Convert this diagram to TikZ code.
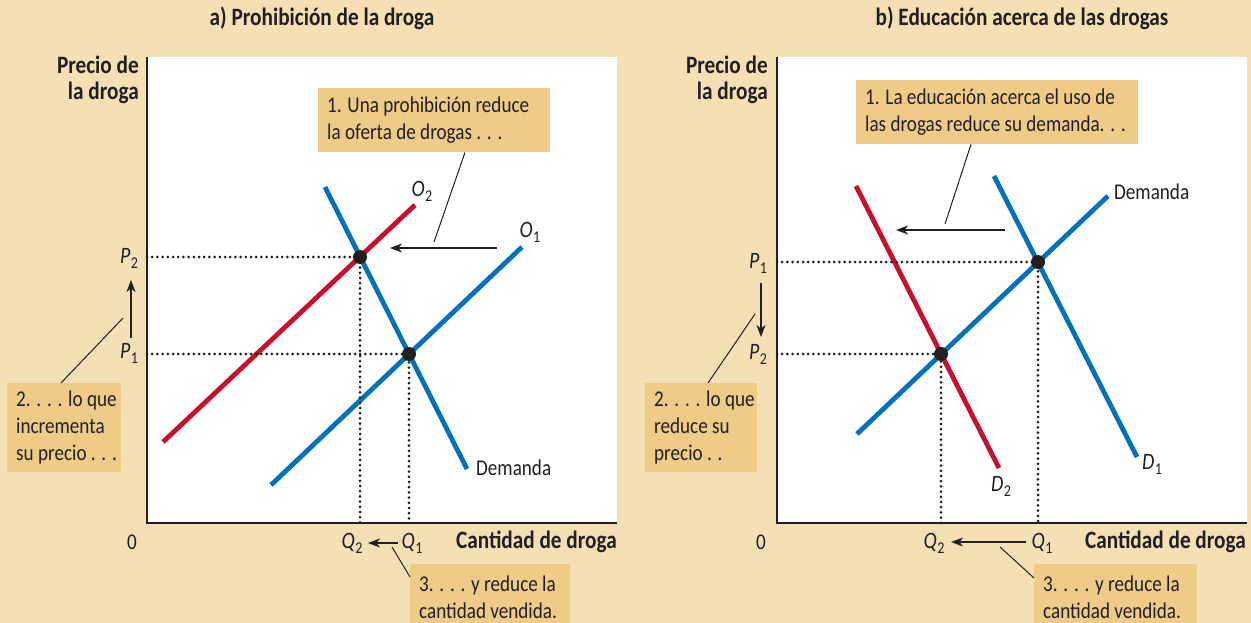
\documentclass[tikz,border=0pt]{standalone}
\usepackage{fontspec}
\setmainfont{Carlito}[FakeStretch=0.85]
\usetikzlibrary{arrows.meta}
\definecolor{bg}{HTML}{F5DFB4}
\definecolor{boxc}{HTML}{EECB86}
\definecolor{bl}{HTML}{0072BC}
\definecolor{rd}{HTML}{C8102E}
\definecolor{ink}{HTML}{231F20}
\newcommand\vsub[2]{{\fontsize{23.5}{23.5}\selectfont\textit{#1}}\kern0.5pt\raisebox{-0.22em}{\fontsize{16.5}{16.5}\selectfont #2}}
\tikzset{
  txt/.style={font=\fontsize{22.5}{27}\selectfont, inner sep=0pt, text=ink},
  btxt/.style={txt, align=left, anchor=west},
  bold/.style={font=\fontsize{25}{26}\selectfont\bfseries, inner sep=0pt, text=ink},
  box/.style={fill=boxc, draw=none, anchor=north west, inner sep=0pt},
  curve/.style={line width=4.8pt},
  dots/.style={line width=3pt, dash pattern=on 0pt off 5.2pt, line cap=round, draw=ink},
  axis/.style={line width=1.5pt, draw=ink},
  arr/.style={-{Stealth[length=12pt,width=9pt,inset=3.5pt]}, line width=1.3pt, draw=ink},
  lead/.style={line width=1pt, draw=ink},
  eq/.style={circle, fill=ink, inner sep=0pt, minimum size=14pt}
}
\begin{document}
\begin{tikzpicture}[x=1pt,y=-1pt]
\useasboundingbox (0,0) rectangle (1251,623);
\fill[bg] (0,0) rectangle (1251,623);
\fill[white] (147,57) rectangle (617,523);
\fill[white] (777,57) rectangle (1247,523);

% ================= Panel a =================
\node[bold] (ta) at (322,18) {a) Prohibición de la droga};
\coordinate (oa) at (147,523);
\draw[axis] (147,57) -- (oa) -- (617,523);
\node[bold, align=right, anchor=east] (ya) at (139,80) {Precio de\\la droga};
\node[bold, anchor=east] (xa) at (617,542) {Cantidad de droga};
\node[txt] (za) at (132,542) {0};

\coordinate (e2a) at (360,257);
\coordinate (e1a) at (409,354);
\draw[curve, rd] (163,442) coordinate (o2s) -- (415,205) coordinate (o2e);
\draw[curve, bl] (271,485) coordinate (o1s) -- (522,247) coordinate (o1e);
\draw[curve, bl] (325,187) coordinate (das) -- (467,469) coordinate (dae);
\draw[dots] (e2a -| oa) -- (e2a) -- (e2a |- oa);
\draw[dots] (e1a -| oa) -- (e1a) -- (e1a |- oa);
\node[eq] (E2a) at (e2a) {};
\node[eq] (E1a) at (e1a) {};
\node[txt] (lo2) at (422,191) {\vsub{O}{2}};
\node[txt] (lo1) at (530,232) {\vsub{O}{1}};
\node[txt, anchor=west] (lda) at (476,468) {Demanda};
\node[txt] (p2a) at (129,258) {\vsub{P}{2}};
\node[txt] (p1a) at (129,353) {\vsub{P}{1}};
\node[txt] (q2a) at (352,543) {\vsub{Q}{2}};
\node[txt] (q1a) at (412,543) {\vsub{Q}{1}};
% boxes
\node[box, minimum width=232pt, minimum height=64pt] (b1a) at (318,88) {};
\node[btxt] (t1a) at ([xshift=9pt]b1a.west) {1. Una prohibición reduce\\la oferta de drogas . . .};
\node[box, minimum width=114pt, minimum height=89pt] (b2a) at (7,383) {};
\node[btxt] (t2a) at ([xshift=9pt]b2a.west) {2. . . . lo que\\incrementa\\su precio . . .};
\node[box, minimum width=160pt, minimum height=64pt] (b3a) at (410,564) {};
\node[btxt] (t3a) at ([xshift=9pt,yshift=-1pt]b3a.west) {3. . . . y reduce la\\cantidad vendida.};
% arrows and leaders
\coordinate (sa1) at (497,248); \coordinate (sa2) at (390,248);
\draw[arr] (sa1) -- (sa2);
\coordinate (la1) at (434,242);
\draw[lead] ([xshift=147pt]b1a.south west) -- (la1);
\coordinate (pa1) at (131,338); \coordinate (pa2) at (131,280);
\draw[arr] (pa1) -- (pa2);
\coordinate (la2) at (123,318);
\draw[lead] ([xshift=54pt]b2a.north west) -- (la2);
\coordinate (qa1) at (398,543); \coordinate (qa2) at (368,543);
\draw[arr] (qa1) -- (qa2);
\coordinate (la3) at (392,547);
\draw[lead] (la3) -- ([yshift=-13pt]b3a.north west);

% ================= Panel b =================
\node[bold] (tb) at (1022,18) {b) Educación acerca de las drogas};
\coordinate (ob) at (777,523);
\draw[axis] (777,57) -- (ob) -- (1247,523);
\node[bold, align=right, anchor=east] (yb) at (768,80) {Precio de\\la droga};
\node[bold, anchor=east] (xb) at (1246,542) {Cantidad de droga};
\node[txt] (zb) at (761,542) {0};

\coordinate (e1b) at (1038,262);
\coordinate (e2b) at (941,354);
\draw[curve, rd] (856,186) coordinate (d2s) -- (999,468) coordinate (d2e);
\draw[curve, bl] (994,176) coordinate (d1s) -- (1137,457) coordinate (d1e);
\draw[curve, bl] (857,434) coordinate (sbs) -- (1108,196) coordinate (sbe);
\draw[dots] (e1b -| ob) -- (e1b) -- (e1b |- ob);
\draw[dots] (e2b -| ob) -- (e2b) -- (e2b |- ob);
\node[eq] (E1b) at (e1b) {};
\node[eq] (E2b) at (e2b) {};
\node[txt, anchor=west] (ldb) at (1114,192) {Demanda};
\node[txt] (ld1) at (1152,464) {\vsub{D}{1}};
\node[txt] (ld2) at (1001,486) {\vsub{D}{2}};
\node[txt] (p1b) at (758,263) {\vsub{P}{1}};
\node[txt] (p2b) at (758,354) {\vsub{P}{2}};
\node[txt] (q2b) at (934,543) {\vsub{Q}{2}};
\node[txt] (q1b) at (1042,543) {\vsub{Q}{1}};
\node[box, minimum width=282pt, minimum height=64pt] (b1b) at (856,80) {};
\node[btxt] (t1b) at ([xshift=9pt]b1b.west) {1. La educación acerca el uso de\\las drogas reduce su demanda. . .};
\node[box, minimum width=112pt, minimum height=89pt] (b2b) at (645,383) {};
\node[btxt] (t2b) at ([xshift=9pt]b2b.west) {2. . . . lo que\\reduce su\\precio . .};
\node[box, minimum width=163pt, minimum height=64pt] (b3b) at (1034,564) {};
\node[btxt] (t3b) at ([xshift=9pt,yshift=-1pt]b3b.west) {3. . . . y reduce la\\cantidad vendida.};
\coordinate (sb1) at (1005,230); \coordinate (sb2) at (896,230);
\draw[arr] (sb1) -- (sb2);
\coordinate (lb1) at (945,224);
\draw[lead] ([xshift=115pt]b1b.south west) -- (lb1);
\coordinate (pb1) at (761,283); \coordinate (pb2) at (761,337);
\draw[arr] (pb1) -- (pb2);
\coordinate (lb2) at (755,314);
\draw[lead] ([xshift=63pt]b2b.north west) -- (lb2);
\coordinate (qb1) at (1026,542); \coordinate (qb2) at (951,542);
\draw[arr] (qb1) -- (qb2);
\coordinate (lb3) at (1000,547);
\draw[lead] (lb3) -- ([yshift=-14pt]b3b.north west);
\end{tikzpicture}
\end{document}
